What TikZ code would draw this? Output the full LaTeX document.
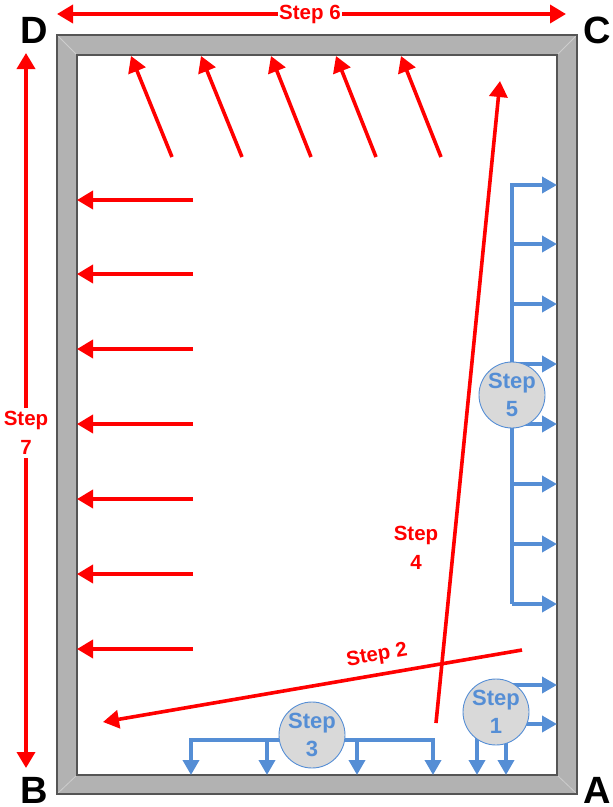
\documentclass[tikz,border=0pt]{standalone}
\usepackage{fontspec}
\setmainfont{Liberation Sans}
\usetikzlibrary{arrows.meta}
\definecolor{wallgray}{RGB}{178,178,178}
\definecolor{wallline}{RGB}{85,85,85}
\definecolor{mitergray}{RGB}{205,205,205}
\definecolor{stepblue}{RGB}{85,142,213}
\definecolor{circfill}{RGB}{217,217,217}
\definecolor{stepred}{RGB}{255,0,0}
\begin{document}
\begin{tikzpicture}[x=1pt,y=-1pt,
  redarrow/.style={draw=stepred,line width=3.6pt,-{Triangle[length=16pt,width=18pt]}},
  redboth/.style={draw=stepred,line width=3.6pt,{Triangle[length=16pt,width=18pt]}-{Triangle[length=16pt,width=18pt]}},
  bluearrow/.style={draw=stepblue,line width=3.6pt,-{Triangle[length=15pt,width=16pt]}},
  blueline/.style={draw=stepblue,line width=3.6pt},
  redlabel/.style={text=stepred,font=\bfseries\fontsize{20.5}{29}\selectfont,align=center,inner sep=1pt},
  corner/.style={font=\bfseries\fontsize{38}{40}\selectfont,inner sep=0pt,anchor=base},
  stepcirc/.style={circle,draw=stepblue,line width=0.9pt,fill=circfill,minimum size=66pt,inner sep=0pt,
    text=stepblue,font=\bfseries\fontsize{22}{28}\selectfont,align=center}
]
\useasboundingbox (0,0) rectangle (613,807);
% wall
\fill[wallgray,even odd rule] (57,35) rectangle (577,794) (77,55) rectangle (557,775);
\draw[mitergray,line width=0.8pt] (57,35)--(77,55) (577,35)--(557,55) (57,794)--(77,775) (577,794)--(557,775);
\draw[wallline,line width=1.2pt] (57,35) rectangle (577,794) (77,55) rectangle (557,775);
% corners
\node[corner] (D) at (34,43) {D};
\node[corner] (C) at (597,43) {C};
\node[corner] (B) at (34,803) {B};
\node[corner] (A) at (597,803) {A};
% step 6
\coordinate (s6a) at (57,14);
\coordinate (s6b) at (566,14);
\draw[redboth] (s6a) -- (s6b);
\node[redlabel,fill=white,inner xsep=1pt] (s6) at (310,14) {Step 6};
% step 7
\coordinate (s7a) at (26,53);
\coordinate (s7b) at (26,768);
\draw[redboth] (s7a) -- (s7b);
\node[redlabel,fill=white,inner ysep=3pt] (s7) at (26,433) {Step\\7};
% top diagonal arrows
\foreach \t/\h [count=\i] in {172/131,242/201,311/271,376/336,441/401}{
  \coordinate (ta\i) at (\t,157);
  \coordinate (th\i) at (\h,56);
  \draw[redarrow] (ta\i) -- (th\i);
}
% left arrows
\foreach \y [count=\i] in {200,274,349,424,499,574,649}{
  \coordinate (la\i) at (193,\y);
  \coordinate (lh\i) at (77,\y);
  \draw[redarrow] (la\i) -- (lh\i);
}
% step 2
\coordinate (s2a) at (522,650);
\coordinate (s2b) at (103,722);
\draw[redarrow] (s2a) -- (s2b);
\node[redlabel,rotate=9.75] (s2) at (377,656) {Step 2};
% step 4
\coordinate (s4a) at (436,723);
\coordinate (s4b) at (500,81);
\draw[redarrow] (s4a) -- (s4b);
\node[redlabel] (s4) at (416,548) {Step\\4};
% step 5
\coordinate (v5top) at (512,185);
\coordinate (v5bot) at (512,604);
\draw[blueline] (512,183.2) -- (v5bot);
\foreach \y [count=\i] in {185,244,304,364,424,484,544,604}{
  \coordinate (r5\i) at (512,\y);
  \coordinate (e5\i) at (557,\y);
  \draw[bluearrow] (r5\i) -- (e5\i);
}
\node[stepcirc] (c5) at (512,395) {Step\\5};
% step 1
\coordinate (e1a) at (557,685);
\coordinate (e1b) at (557,724);
\coordinate (d1a) at (477,775);
\coordinate (d1b) at (506,775);
\draw[bluearrow] (505,685) -- (e1a);
\draw[bluearrow] (505,724) -- (e1b);
\draw[bluearrow] (477,725) -- (d1a);
\draw[bluearrow] (506,725) -- (d1b);
\node[stepcirc] (c1) at (496,712) {Step\\1};
% step 3
\coordinate (h3l) at (191,740);
\coordinate (h3r) at (433,740);
\draw[blueline] (191,760) -- (191,740) -- (h3r) -- (433,760);
\foreach \x [count=\i] in {191,267,357,433}{
  \coordinate (t3\i) at (\x,740);
  \coordinate (b3\i) at (\x,775);
  \draw[bluearrow] (t3\i) -- (b3\i);
}
\node[stepcirc] (c3) at (312,735) {Step\\3};
\end{tikzpicture}
\end{document}
